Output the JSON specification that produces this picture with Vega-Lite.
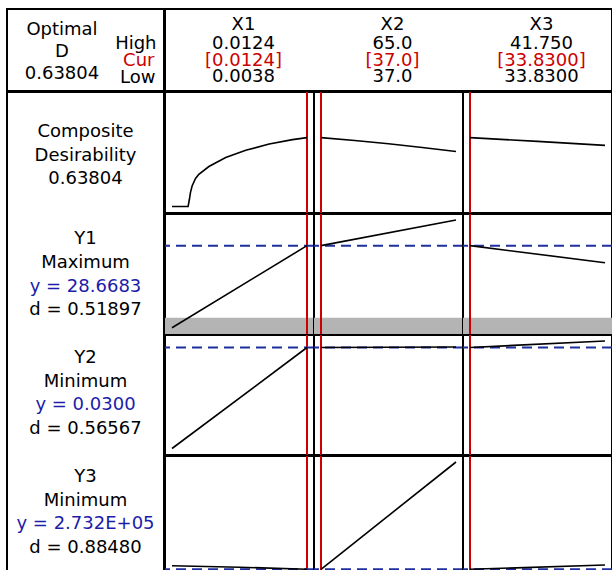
{
  "$schema": "https://vega.github.io/schema/vega-lite/v6.json",
  "background": "white",
  "padding": {"left": 6, "top": 8, "right": 0, "bottom": 0},
  "spacing": -4,
  "config": {
    "view": {"stroke": "black", "strokeWidth": 2},
    "concat": {"spacing": -4},
    "facet": {"spacing": -2},
    "text": {"font": "DejaVu Sans", "fontSize": 18}
  },
  "datasets": {
    "hdrLeft": [
      {"row": "header", "optimal": "Optimal\nD\n0.63804", "high": "High", "cur": "Cur", "low": "Low"}
    ],
    "hdrRight": [
      {"factor": "X1", "name": "X1\n0.0124", "cur": "[0.0124]", "low": "0.0038"},
      {"factor": "X2", "name": "X2\n65.0", "cur": "[37.0]", "low": "37.0"},
      {"factor": "X3", "name": "X3\n41.750", "cur": "[33.8300]", "low": "33.8300"}
    ],
    "labels": [
      {"group": "Composite", "name": "Composite\nDesirability\n0.63804"},
      {"group": "Y1", "name": "Y1\nMaximum", "pred": "y = 28.6683", "d": "d = 0.51897"},
      {"group": "Y2", "name": "Y2\nMinimum", "pred": "y = 0.0300", "d": "d = 0.56567"},
      {"group": "Y3", "name": "Y3\nMinimum", "pred": "y = 2.732E+05", "d": "d = 0.88480"}
    ],
    "panels": [
      {"kind": "setting", "factor": "X1", "x": 0.0124},
      {"kind": "setting", "factor": "X2", "x": 37},
      {"kind": "setting", "factor": "X3", "x": 33.83},

      {"kind": "curve", "resp": "C", "factor": "X1", "x": 0.0038, "y": 0},
      {"kind": "curve", "resp": "C", "factor": "X1", "x": 0.004826, "y": 0},
      {"kind": "curve", "resp": "C", "factor": "X1", "x": 0.00491, "y": 0.067},
      {"kind": "curve", "resp": "C", "factor": "X1", "x": 0.004975, "y": 0.129},
      {"kind": "curve", "resp": "C", "factor": "X1", "x": 0.00508, "y": 0.19},
      {"kind": "curve", "resp": "C", "factor": "X1", "x": 0.0053, "y": 0.259},
      {"kind": "curve", "resp": "C", "factor": "X1", "x": 0.00551, "y": 0.298},
      {"kind": "curve", "resp": "C", "factor": "X1", "x": 0.00615, "y": 0.37},
      {"kind": "curve", "resp": "C", "factor": "X1", "x": 0.00722, "y": 0.453},
      {"kind": "curve", "resp": "C", "factor": "X1", "x": 0.0085, "y": 0.52},
      {"kind": "curve", "resp": "C", "factor": "X1", "x": 0.00999, "y": 0.579},
      {"kind": "curve", "resp": "C", "factor": "X1", "x": 0.01148, "y": 0.619},
      {"kind": "curve", "resp": "C", "factor": "X1", "x": 0.0124, "y": 0.638},
      {"kind": "curve", "resp": "C", "factor": "X2", "x": 37, "y": 0.638},
      {"kind": "curve", "resp": "C", "factor": "X2", "x": 44, "y": 0.611},
      {"kind": "curve", "resp": "C", "factor": "X2", "x": 51, "y": 0.581},
      {"kind": "curve", "resp": "C", "factor": "X2", "x": 58, "y": 0.547},
      {"kind": "curve", "resp": "C", "factor": "X2", "x": 65, "y": 0.509},
      {"kind": "curve", "resp": "C", "factor": "X3", "x": 33.83, "y": 0.638},
      {"kind": "curve", "resp": "C", "factor": "X3", "x": 37.79, "y": 0.603},
      {"kind": "curve", "resp": "C", "factor": "X3", "x": 41.75, "y": 0.566},

      {"kind": "band", "resp": "Y1", "factor": "X1", "y": 14.26, "y2": 11},
      {"kind": "band", "resp": "Y1", "factor": "X2", "y": 14.26, "y2": 11},
      {"kind": "band", "resp": "Y1", "factor": "X3", "y": 14.26, "y2": 11},
      {"kind": "predicted", "resp": "Y1", "factor": "X1", "y": 28.6683},
      {"kind": "predicted", "resp": "Y1", "factor": "X2", "y": 28.6683},
      {"kind": "predicted", "resp": "Y1", "factor": "X3", "y": 28.6683},
      {"kind": "curve", "resp": "Y1", "factor": "X1", "x": 0.0038, "y": 12.26},
      {"kind": "curve", "resp": "Y1", "factor": "X1", "x": 0.0124, "y": 28.6683},
      {"kind": "curve", "resp": "Y1", "factor": "X2", "x": 37, "y": 28.6683},
      {"kind": "curve", "resp": "Y1", "factor": "X2", "x": 65, "y": 33.8},
      {"kind": "curve", "resp": "Y1", "factor": "X3", "x": 33.83, "y": 28.6683},
      {"kind": "curve", "resp": "Y1", "factor": "X3", "x": 41.75, "y": 25.26},

      {"kind": "predicted", "resp": "Y2", "factor": "X1", "y": 0.03},
      {"kind": "predicted", "resp": "Y2", "factor": "X2", "y": 0.03},
      {"kind": "predicted", "resp": "Y2", "factor": "X3", "y": 0.03},
      {"kind": "curve", "resp": "Y2", "factor": "X1", "x": 0.0038, "y": 0.0098},
      {"kind": "curve", "resp": "Y2", "factor": "X1", "x": 0.0124, "y": 0.03},
      {"kind": "curve", "resp": "Y2", "factor": "X2", "x": 37, "y": 0.03},
      {"kind": "curve", "resp": "Y2", "factor": "X2", "x": 65, "y": 0.0301},
      {"kind": "curve", "resp": "Y2", "factor": "X3", "x": 33.83, "y": 0.03},
      {"kind": "curve", "resp": "Y2", "factor": "X3", "x": 41.75, "y": 0.0313},

      {"kind": "predicted", "resp": "Y3", "factor": "X1", "y": 273200},
      {"kind": "predicted", "resp": "Y3", "factor": "X2", "y": 273200},
      {"kind": "predicted", "resp": "Y3", "factor": "X3", "y": 273200},
      {"kind": "curve", "resp": "Y3", "factor": "X1", "x": 0.0038, "y": 276800},
      {"kind": "curve", "resp": "Y3", "factor": "X1", "x": 0.0081, "y": 275300},
      {"kind": "curve", "resp": "Y3", "factor": "X1", "x": 0.0124, "y": 273200},
      {"kind": "curve", "resp": "Y3", "factor": "X2", "x": 37, "y": 273200},
      {"kind": "curve", "resp": "Y3", "factor": "X2", "x": 65, "y": 380500},
      {"kind": "curve", "resp": "Y3", "factor": "X3", "x": 33.83, "y": 273200},
      {"kind": "curve", "resp": "Y3", "factor": "X3", "x": 41.75, "y": 277500}
    ]
  },
  "vconcat": [
    {
      "spacing": -4,
      "hconcat": [
        {
          "width": 157, "height": 82,
          "data": {"name": "hdrLeft"},
          "encoding": {"y": {"field": "row", "type": "nominal", "axis": null}},
          "layer": [
            {"mark": {"type": "text", "lineBreak": "\n", "lineHeight": 22, "dx": -23.5, "dy": -20, "color": "black"},
             "encoding": {"text": {"field": "optimal", "type": "nominal"}}},
            {"mark": {"type": "text", "align": "right", "dx": 71, "dy": -6.2, "color": "black"},
             "encoding": {"text": {"field": "high", "type": "nominal"}}},
            {"mark": {"type": "text", "align": "right", "dx": 69, "dy": 10.8, "color": "#cc0000"},
             "encoding": {"text": {"field": "cur", "type": "nominal"}}},
            {"mark": {"type": "text", "align": "right", "dx": 70, "dy": 27.5, "color": "black"},
             "encoding": {"text": {"field": "low", "type": "nominal"}}}
          ]
        },
        {
          "width": 447, "height": 82,
          "data": {"name": "hdrRight"},
          "encoding": {"x": {"field": "factor", "type": "nominal", "axis": null, "sort": ["X1", "X2", "X3"]}},
          "layer": [
            {"mark": {"type": "text", "lineBreak": "\n", "lineHeight": 19, "dx": 4, "dy": -25.5, "color": "black"},
             "encoding": {"text": {"field": "name", "type": "nominal"}}},
            {"mark": {"type": "text", "dx": 4, "dy": 10.5, "color": "#cc0000"},
             "encoding": {"text": {"field": "cur", "type": "nominal"}}},
            {"mark": {"type": "text", "dx": 4, "dy": 27, "color": "black"},
             "encoding": {"text": {"field": "low", "type": "nominal"}}}
          ]
        }
      ]
    },
    {
      "spacing": -4,
      "hconcat": [
        {
          "width": 157, "height": 481,
          "data": {"name": "labels"},
          "encoding": {"y": {"field": "group", "type": "nominal", "axis": null, "sort": ["Composite", "Y1", "Y2", "Y3"], "scale": {"padding": 0.524}}},
          "layer": [
            {"transform": [{"filter": "datum.group === 'Composite'"}],
             "mark": {"type": "text", "lineBreak": "\n", "lineHeight": 23.5, "dy": -22.2, "color": "black"},
             "encoding": {"text": {"field": "name", "type": "nominal"}}},
            {"transform": [{"filter": "datum.group !== 'Composite'"}],
             "mark": {"type": "text", "lineBreak": "\n", "lineHeight": 24, "dy": -34, "color": "black"},
             "encoding": {"text": {"field": "name", "type": "nominal"}}},
            {"transform": [{"filter": "datum.group !== 'Composite'"}],
             "mark": {"type": "text", "dy": 13.5, "color": "#1c1caa"},
             "encoding": {"text": {"field": "pred", "type": "nominal"}}},
            {"transform": [{"filter": "datum.group !== 'Composite'"}],
             "mark": {"type": "text", "dy": 37, "color": "black"},
             "encoding": {"text": {"field": "d", "type": "nominal"}}}
          ]
        },
        {
          "spacing": -4,
          "vconcat": [
            {
              "data": {"name": "panels"},
              "transform": [{"filter": "datum.resp === 'C' || datum.kind === 'setting'"}],
              "facet": {"column": {"field": "factor", "type": "nominal", "header": null, "sort": ["X1", "X2", "X3"]}},
              "spacing": -2,
              "resolve": {"scale": {"x": "independent"}},
              "spec": {
                "width": 149, "height": 121,
                "layer": [
                  {"transform": [{"filter": "datum.kind === 'setting'"}],
                   "mark": {"type": "rule", "color": "#cc0000", "strokeWidth": 2, "clip": true},
                   "encoding": {"x": {"field": "x", "type": "quantitative", "axis": null, "scale": {"zero": false, "nice": false, "padding": 7}}}},
                  {"transform": [{"filter": "datum.kind === 'curve'"}],
                   "mark": {"type": "line", "color": "black", "strokeWidth": 1.6, "clip": true},
                   "encoding": {
                     "x": {"field": "x", "type": "quantitative", "axis": null, "scale": {"zero": false, "nice": false, "padding": 7}},
                     "y": {"field": "y", "type": "quantitative", "axis": null, "scale": {"domain": [0, 1], "zero": false, "nice": false, "padding": 6.5}}}}
                ]
              }
            },
            {
              "data": {"name": "panels"},
              "transform": [{"filter": "datum.resp === 'Y1' || datum.kind === 'setting'"}],
              "facet": {"column": {"field": "factor", "type": "nominal", "header": null, "sort": ["X1", "X2", "X3"]}},
              "spacing": -2,
              "resolve": {"scale": {"x": "independent"}},
              "spec": {
                "width": 149, "height": 120,
                "layer": [
                  {"transform": [{"filter": "datum.kind === 'band'"}],
                   "mark": {"type": "rect", "color": "#b4b4b4", "clip": true},
                   "encoding": {
                     "y": {"field": "y", "type": "quantitative", "axis": null, "scale": {"domain": [11, 35], "zero": false, "nice": false}},
                     "y2": {"field": "y2"}}},
                  {"transform": [{"filter": "datum.kind === 'setting'"}],
                   "mark": {"type": "rule", "color": "#cc0000", "strokeWidth": 2, "clip": true},
                   "encoding": {"x": {"field": "x", "type": "quantitative", "axis": null, "scale": {"zero": false, "nice": false, "padding": 7}}}},
                  {"transform": [{"filter": "datum.kind === 'predicted'"}],
                   "mark": {"type": "rule", "color": "#1f2f9f", "strokeWidth": 2, "strokeDash": [10, 6], "clip": true},
                   "encoding": {"y": {"field": "y", "type": "quantitative", "axis": null, "scale": {"domain": [11, 35], "zero": false, "nice": false}}}},
                  {"transform": [{"filter": "datum.kind === 'curve'"}],
                   "mark": {"type": "line", "color": "black", "strokeWidth": 1.6, "clip": true},
                   "encoding": {
                     "x": {"field": "x", "type": "quantitative", "axis": null, "scale": {"zero": false, "nice": false, "padding": 7}},
                     "y": {"field": "y", "type": "quantitative", "axis": null, "scale": {"domain": [11, 35], "zero": false, "nice": false}}}}
                ]
              }
            },
            {
              "data": {"name": "panels"},
              "transform": [{"filter": "datum.resp === 'Y2' || datum.kind === 'setting'"}],
              "facet": {"column": {"field": "factor", "type": "nominal", "header": null, "sort": ["X1", "X2", "X3"]}},
              "spacing": -2,
              "resolve": {"scale": {"x": "independent"}},
              "spec": {
                "width": 149, "height": 120,
                "layer": [
                  {"transform": [{"filter": "datum.kind === 'setting'"}],
                   "mark": {"type": "rule", "color": "#cc0000", "strokeWidth": 2, "clip": true},
                   "encoding": {"x": {"field": "x", "type": "quantitative", "axis": null, "scale": {"zero": false, "nice": false, "padding": 7}}}},
                  {"transform": [{"filter": "datum.kind === 'predicted'"}],
                   "mark": {"type": "rule", "color": "#1f2f9f", "strokeWidth": 2, "strokeDash": [10, 6], "clip": true},
                   "encoding": {"y": {"field": "y", "type": "quantitative", "axis": null, "scale": {"domain": [0.0085, 0.0325], "zero": false, "nice": false}}}},
                  {"transform": [{"filter": "datum.kind === 'curve'"}],
                   "mark": {"type": "line", "color": "black", "strokeWidth": 1.6, "clip": true},
                   "encoding": {
                     "x": {"field": "x", "type": "quantitative", "axis": null, "scale": {"zero": false, "nice": false, "padding": 7}},
                     "y": {"field": "y", "type": "quantitative", "axis": null, "scale": {"domain": [0.0085, 0.0325], "zero": false, "nice": false}}}}
                ]
              }
            },
            {
              "data": {"name": "panels"},
              "transform": [{"filter": "datum.resp === 'Y3' || datum.kind === 'setting'"}],
              "facet": {"column": {"field": "factor", "type": "nominal", "header": null, "sort": ["X1", "X2", "X3"]}},
              "spacing": -2,
              "resolve": {"scale": {"x": "independent"}},
              "spec": {
                "width": 149, "height": 120,
                "layer": [
                  {"transform": [{"filter": "datum.kind === 'setting'"}],
                   "mark": {"type": "rule", "color": "#cc0000", "strokeWidth": 2, "clip": true},
                   "encoding": {"x": {"field": "x", "type": "quantitative", "axis": null, "scale": {"zero": false, "nice": false, "padding": 7}}}},
                  {"transform": [{"filter": "datum.kind === 'predicted'"}],
                   "mark": {"type": "rule", "color": "#1f2f9f", "strokeWidth": 2, "strokeDash": [10, 6], "clip": true},
                   "encoding": {"y": {"field": "y", "type": "quantitative", "axis": null, "scale": {"domain": [266500, 386500], "zero": false, "nice": false}}}},
                  {"transform": [{"filter": "datum.kind === 'curve'"}],
                   "mark": {"type": "line", "color": "black", "strokeWidth": 1.6, "clip": true},
                   "encoding": {
                     "x": {"field": "x", "type": "quantitative", "axis": null, "scale": {"zero": false, "nice": false, "padding": 7}},
                     "y": {"field": "y", "type": "quantitative", "axis": null, "scale": {"domain": [266500, 386500], "zero": false, "nice": false}}}}
                ]
              }
            }
          ]
        }
      ]
    }
  ]
}
